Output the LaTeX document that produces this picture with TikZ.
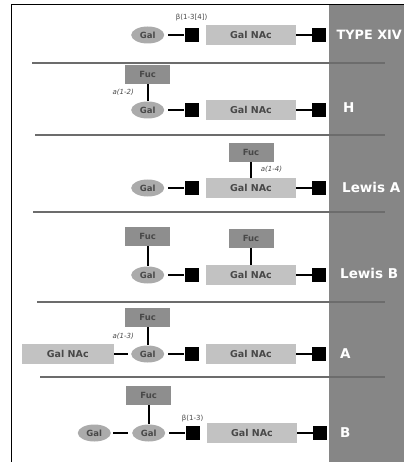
\documentclass[tikz,border=0pt]{standalone}
\usepackage{fontspec}
\setsansfont{DejaVu Sans}
\usepackage{tikz}
\usetikzlibrary{positioning, shapes.geometric}
\definecolor{galgray}{HTML}{ABABAB}
\definecolor{nacgray}{HTML}{C2C2C2}
\definecolor{fucgray}{HTML}{8E8E8E}
\definecolor{panelgray}{HTML}{868686}
\definecolor{textgray}{HTML}{484848}
\definecolor{rulegray}{HTML}{6C6C6C}

\begin{document}
\begin{tikzpicture}[
        x = 1pt, y = 1pt,
        gal/.style = {ellipse, fill=galgray, minimum width=33pt, minimum height=17pt, inner sep=0pt, text=textgray, font=\sffamily\bfseries\fontsize{8.5}{9}\selectfont},
        nac/.style = {rectangle, fill=nacgray, minimum width=90pt, minimum height=20pt, inner sep=0pt, text=textgray, font=\sffamily\bfseries\fontsize{9.5}{10}\selectfont},
        fuc/.style = {rectangle, fill=fucgray, minimum width=45pt, minimum height=19pt, inner sep=0pt, text=textgray, font=\sffamily\bfseries\fontsize{8.5}{9}\selectfont},
        blk/.style = {rectangle, fill=black, minimum size=14pt, inner sep=0pt},
        link/.style = {line width=1.8pt},
        bond/.style = {inner sep=0pt, text=textgray, font=\sffamily\fontsize{7}{8}\selectfont},
        bondit/.style = {bond, font=\sffamily\itshape\fontsize{7}{8}\selectfont},
        tag/.style = {anchor=west, inner sep=0pt, text=white, font=\sffamily\bfseries\fontsize{13.5}{14}\selectfont},
        sep/.style = {rulegray, line width=1.5pt}
    ]
    \useasboundingbox (0,0) rectangle (404,-462);
    \fill[panelgray] (329,-5.5) rectangle (404,-462);
    \draw[line width=1pt] (11,-462) -- (11,-5) -- (404,-5);
    \foreach \y/\xs in {63/32, 135/35, 212/33, 302/37, 377/40}
        \draw[sep] (\xs,-\y) -- (385,-\y);

    % TYPE XIV
    \node[nac] (gn1) at (251,-35) {Gal NAc};
    \node[blk, left=7pt of gn1] (sqa1) {};
    \node[gal, left=20pt of sqa1] (gal1) {Gal};
    \node[blk, right=16pt of gn1] (sqb1) {};
    \node[bond, above=7pt of sqa1] (bd1) {β(1-3[4])};
    \draw[link, shorten <=4pt] (gal1) -- (sqa1);
    \draw[link] (gn1) -- (sqb1);
    \node[tag, font=\sffamily\bfseries\fontsize{12.8}{14}\selectfont] (tg1) at (336.5,-35) {TYPE XIV};

    % H
    \node[nac] (gn2) at (251,-110) {Gal NAc};
    \node[blk, left=7pt of gn2] (sqa2) {};
    \node[gal, left=20pt of sqa2] (gal2) {Gal};
    \node[blk, right=16pt of gn2] (sqb2) {};
    \node[fuc, above=17pt of gal2] (fuc2) {Fuc};
    \draw[link, shorten <=4pt] (gal2) -- (sqa2);
    \draw[link] (gn2) -- (sqb2);
    \draw[link] (fuc2) -- node[bondit, left=13pt] {a(1-2)} (gal2);
    \node[tag] (tg2) at (343,-108) {H};

    % Lewis A
    \node[nac] (gn3) at (251,-188) {Gal NAc};
    \node[blk, left=7pt of gn3] (sqa3) {};
    \node[gal, left=20pt of sqa3] (gal3) {Gal};
    \node[blk, right=16pt of gn3] (sqb3) {};
    \node[fuc, above=16pt of gn3] (fuc3) {Fuc};
    \draw[link, shorten <=4pt] (gal3) -- (sqa3);
    \draw[link] (gn3) -- (sqb3);
    \draw[link] (fuc3) -- node[bondit, right=9pt] {a(1-4)} (gn3);
    \node[tag] (tg3) at (342,-187) {Lewis A};

    % Lewis B
    \node[nac] (gn4) at (251,-275) {Gal NAc};
    \node[blk, left=7pt of gn4] (sqa4) {};
    \node[gal, left=20pt of sqa4] (gal4) {Gal};
    \node[blk, right=16pt of gn4] (sqb4) {};
    \node[fuc, above=20pt of gal4] (fuc4a) {Fuc};
    \node[fuc, above=17pt of gn4] (fuc4b) {Fuc};
    \draw[link, shorten <=4pt] (gal4) -- (sqa4);
    \draw[link] (gn4) -- (sqb4);
    \draw[link] (fuc4a) -- (gal4);
    \draw[link] (fuc4b) -- (gn4);
    \node[tag] (tg4) at (340,-273) {Lewis B};

    % A
    \node[nac] (gn5) at (251,-354) {Gal NAc};
    \node[blk, left=7pt of gn5] (sqa5) {};
    \node[gal, left=20pt of sqa5] (gal5) {Gal};
    \node[blk, right=16pt of gn5] (sqb5) {};
    \node[nac, minimum width=92pt, left=17pt of gal5] (gn5l) {Gal NAc};
    \node[fuc, above=18pt of gal5] (fuc5) {Fuc};
    \draw[link, shorten <=4pt] (gal5) -- (sqa5);
    \draw[link] (gn5) -- (sqb5);
    \draw[link, shorten >=3pt] (gn5l) -- (gal5);
    \draw[link] (fuc5) -- node[bondit, left=13pt] {a(1-3)} (gal5);
    \node[tag] (tg5) at (340,-354) {A};

    % B
    \node[nac] (gn6) at (252,-433) {Gal NAc};
    \node[blk, left=7pt of gn6] (sqa6) {};
    \node[gal, left=20pt of sqa6] (gal6) {Gal};
    \node[gal, left=21pt of gal6] (gal6b) {Gal};
    \node[blk, right=16pt of gn6] (sqb6) {};
    \node[fuc, above=19pt of gal6] (fuc6) {Fuc};
    \node[bond, above=4pt of sqa6] (bd6) {β(1-3)};
    \draw[link, shorten <=4pt] (gal6) -- (sqa6);
    \draw[link] (gn6) -- (sqb6);
    \draw[link, shorten <=2pt, shorten >=4pt] (gal6b) -- (gal6);
    \draw[link] (fuc6) -- (gal6);
    \node[tag] (tg6) at (340,-433) {B};
\end{tikzpicture}
\end{document}
